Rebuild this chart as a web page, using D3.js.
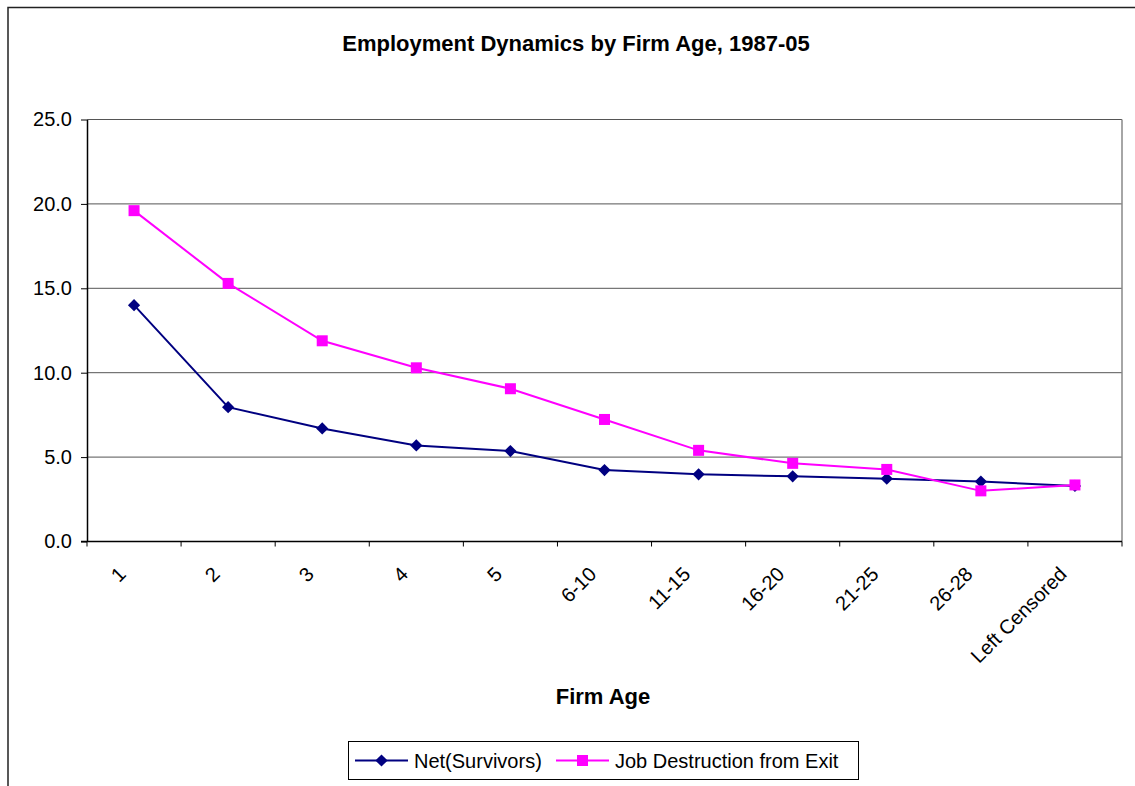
<!DOCTYPE html>
<html>
<head>
<meta charset="utf-8">
<script src="https://cdn.jsdelivr.net/npm/d3@7"></script>
<style>
  body { margin: 0; background: #fff; }
  svg { font-family: "Liberation Sans", Arial, sans-serif; }
</style>
</head>
<body>
<div id="chart"></div>
<script>
const ages = ['1', '2', '3', '4', '5', '6-10', '11-15', '16-20', '21-25', '26-28', 'Left Censored'];
const netSurvivors = [14.0, 7.96, 6.70, 5.69, 5.36, 4.23, 3.98, 3.86, 3.72, 3.55, 3.29];
const jobDestruction = [19.6, 15.29, 11.89, 10.29, 9.05, 7.23, 5.40, 4.63, 4.27, 3.00, 3.35];
const yTicks = [0, 5, 10, 15, 20, 25];

const width = 1135, height = 786;
const plot = { left: 87, right: 1122, top: 119.5, bottom: 541.5 };

const svg = d3.select('#chart').append('svg')
    .attr('width', width)
    .attr('height', height);

// outer chart frame
svg.append('rect')
    .attr('x', 8).attr('y', 7.5)
    .attr('width', 1140).attr('height', 800)
    .attr('fill', 'none').attr('stroke', '#222').attr('stroke-width', 1.5);

const x = d3.scaleBand().domain(ages).range([plot.left, plot.right]);
const y = d3.scaleLinear().domain([0, 25]).range([plot.bottom, plot.top]);

// gridlines
svg.append('g').selectAll('line')
    .data(yTicks.filter(d => d > 0))
    .enter().append('line')
    .attr('x1', plot.left).attr('x2', plot.right)
    .attr('y1', d => y(d)).attr('y2', d => y(d))
    .attr('stroke', '#555').attr('stroke-width', 1);

// right border of plot area
svg.append('line')
    .attr('x1', plot.right).attr('x2', plot.right)
    .attr('y1', plot.top).attr('y2', plot.bottom)
    .attr('stroke', '#888').attr('stroke-width', 1.5);

// y axis
const yAxis = d3.axisLeft(y).tickValues(yTicks).tickFormat(d3.format('.1f')).tickSize(6).tickSizeOuter(0);
const yg = svg.append('g').attr('transform', `translate(${plot.left},0)`).call(yAxis);
yg.select('.domain').attr('stroke', '#000').attr('stroke-width', 1.5);
yg.selectAll('.tick line').attr('stroke', '#000');
yg.selectAll('.tick text').attr('fill', '#000').attr('x', -15)
    .style('font-size', '20px')
    .style('font-family', '"Liberation Sans", Arial, sans-serif');

// x axis: ticks at category boundaries
const boundaries = ages.map(a => x(a)).concat([plot.right]);
svg.append('line')
    .attr('x1', plot.left - 6).attr('x2', plot.right)
    .attr('y1', plot.bottom).attr('y2', plot.bottom)
    .attr('stroke', '#000').attr('stroke-width', 1.5);
svg.append('g').selectAll('line')
    .data(boundaries)
    .enter().append('line')
    .attr('x1', d => d).attr('x2', d => d)
    .attr('y1', plot.bottom).attr('y2', plot.bottom + 5)
    .attr('stroke', '#000');

// rotated category labels
svg.append('g').selectAll('text')
    .data(ages)
    .enter().append('text')
    .attr('transform', d => `translate(${x(d) + x.bandwidth() / 2 - 7},${plot.bottom + 34}) rotate(-45)`)
    .attr('text-anchor', 'end')
    .style('font-size', '20px')
    .attr('fill', '#000')
    .text(d => d);

// title and axis title
svg.append('text')
    .attr('x', 576).attr('y', 51)
    .attr('text-anchor', 'middle')
    .style('font-size', '22px').attr('font-weight', 'bold')
    .text('Employment Dynamics by Firm Age, 1987-05');

svg.append('text')
    .attr('x', 603).attr('y', 704)
    .attr('text-anchor', 'middle')
    .style('font-size', '22px').attr('font-weight', 'bold')
    .text('Firm Age');

// series
const cx = d => x(d) + x.bandwidth() / 2;
const series = [
    { name: 'Net(Survivors)', values: netSurvivors, color: '#000080', marker: 'diamond' },
    { name: 'Job Destruction from Exit', values: jobDestruction, color: '#FF00FF', marker: 'square' }
];

const line = d3.line().x((_, i) => cx(ages[i])).y(d => y(d));
const diamond = d3.symbol().type(d3.symbolDiamond2).size(95);

function drawMarker(g, s, px, py) {
    if (s.marker === 'diamond') {
        g.append('path').attr('d', diamond()).attr('transform', `translate(${px},${py})`).attr('fill', s.color);
    } else {
        g.append('rect').attr('x', px - 5.5).attr('y', py - 5.5).attr('width', 11).attr('height', 11).attr('fill', s.color);
    }
}

series.forEach(s => {
    svg.append('path').datum(s.values)
        .attr('fill', 'none').attr('stroke', s.color).attr('stroke-width', 2)
        .attr('d', line);
    const g = svg.append('g');
    s.values.forEach((v, i) => drawMarker(g, s, cx(ages[i]), y(v)));
});

// legend
const legend = svg.append('g');
legend.append('rect')
    .attr('x', 348.5).attr('y', 741.5).attr('width', 510).attr('height', 38)
    .attr('fill', '#fff').attr('stroke', '#000').attr('stroke-width', 1);
const legendX = [355, 556];
series.forEach((s, i) => {
    const lx = legendX[i], ly = 760.5;
    legend.append('line')
        .attr('x1', lx).attr('x2', lx + 53).attr('y1', ly).attr('y2', ly)
        .attr('stroke', s.color).attr('stroke-width', 2);
    drawMarker(legend, s, lx + 26.5, ly);
    legend.append('text')
        .attr('x', lx + 59).attr('y', ly + 7)
        .style('font-size', '20px').attr('fill', '#000')
        .text(s.name);
});
</script>
</body>
</html>
